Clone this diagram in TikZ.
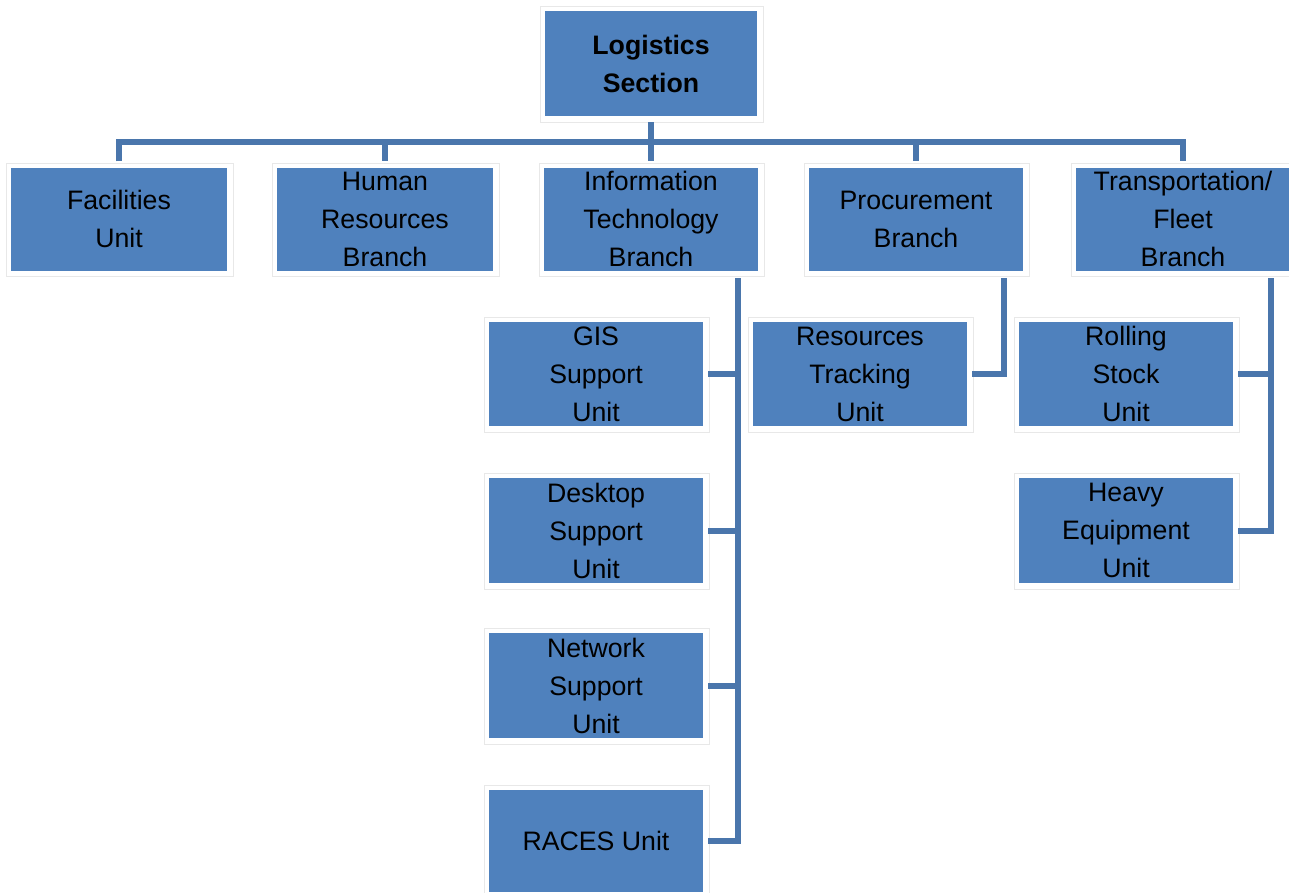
\documentclass[tikz,border=0pt]{standalone}
\usepackage{fontspec}
\setmainfont{Liberation Sans}
\usetikzlibrary{backgrounds}
\definecolor{boxblue}{HTML}{4F81BD}
\definecolor{lineblue}{HTML}{4A76AC}
\tikzset{
  unitbox/.style={draw=none, fill=boxblue, minimum width=214pt, minimum height=103pt,
    inner sep=0pt, align=center, text=black,
    font=\fontsize{26.7}{38}\selectfont},
  conn/.style={draw=lineblue, line width=6pt},
  frame/.style={draw=black!9, line width=1pt, fill=white}
}
\begin{document}
\begin{tikzpicture}[x=1pt,y=-1pt]
\useasboundingbox (0,0) rectangle (1289,892);
% top
\node[unitbox, minimum width=212pt, minimum height=105pt, font=\bfseries\fontsize{26.7}{38}\selectfont] (top) at (651,63.5) {Logistics\\Section};
% row 2
\node[unitbox, minimum width=216pt] (fac) at (119,219) {Facilities\\Unit};
\node[unitbox, minimum width=216pt] (hr) at (385,219) {Human\\Resources\\Branch};
\node[unitbox] (it) at (651,219) {Information\\Technology\\Branch};
\node[unitbox] (proc) at (916,219) {Procurement\\Branch};
\node[unitbox] (tr) at (1183,219) {Transportation/\\Fleet\\Branch};
% IT children
\node[unitbox, minimum height=104pt] (gis) at (596,374) {GIS\\Support\\Unit};
\node[unitbox, minimum height=105pt] (desk) at (596,530.5) {Desktop\\Support\\Unit};
\node[unitbox, minimum height=105pt] (net) at (596,685.5) {Network\\Support\\Unit};
\node[unitbox, minimum height=102pt] (races) at (596,841) {RACES Unit};
% Procurement child
\node[unitbox, minimum height=104pt] (rt) at (860,374) {Resources\\Tracking\\Unit};
% Transportation children
\node[unitbox, minimum height=104pt] (roll) at (1126,374) {Rolling\\Stock\\Unit};
\node[unitbox, minimum height=105pt] (heavy) at (1126,530.5) {Heavy\\Equipment\\Unit};
% frames behind boxes
\begin{scope}[on background layer]
\foreach \n in {top,fac,hr,it,proc,tr,gis,desk,net,races,rt,roll,heavy}
  \draw[frame] ([xshift=-4pt,yshift=4pt]\n.north west) rectangle ([xshift=6pt,yshift=-6pt]\n.south east);
\end{scope}
% bus
\coordinate (bus) at (651,142);
\draw[conn] ([yshift=-6pt]top.south) -- ([yshift=6pt]it.north);
\draw[conn] ([yshift=6pt]fac.north) -- (fac.north |- bus) -- (tr.north |- bus) -- ([yshift=6pt]tr.north);
\draw[conn] (hr.north |- bus) -- ([yshift=6pt]hr.north);
\draw[conn] (proc.north |- bus) -- ([yshift=6pt]proc.north);
% IT spine
\coordinate (itv) at (738,278);
\draw[conn] (itv) -- (itv |- races.east) -- ([xshift=5pt]races.east);
\draw[conn] ([xshift=5pt]gis.east) -- (gis.east -| itv);
\draw[conn] ([xshift=5pt]desk.east) -- (desk.east -| itv);
\draw[conn] ([xshift=5pt]net.east) -- (net.east -| itv);
% Procurement spine
\coordinate (pv) at (1004,278);
\draw[conn] (pv) -- (pv |- rt.east) -- ([xshift=5pt]rt.east);
% Transportation spine
\coordinate (tv) at (1271,278);
\draw[conn] (tv) -- (tv |- heavy.east) -- ([xshift=5pt]heavy.east);
\draw[conn] ([xshift=5pt]roll.east) -- (roll.east -| tv);
\end{tikzpicture}
\end{document}
